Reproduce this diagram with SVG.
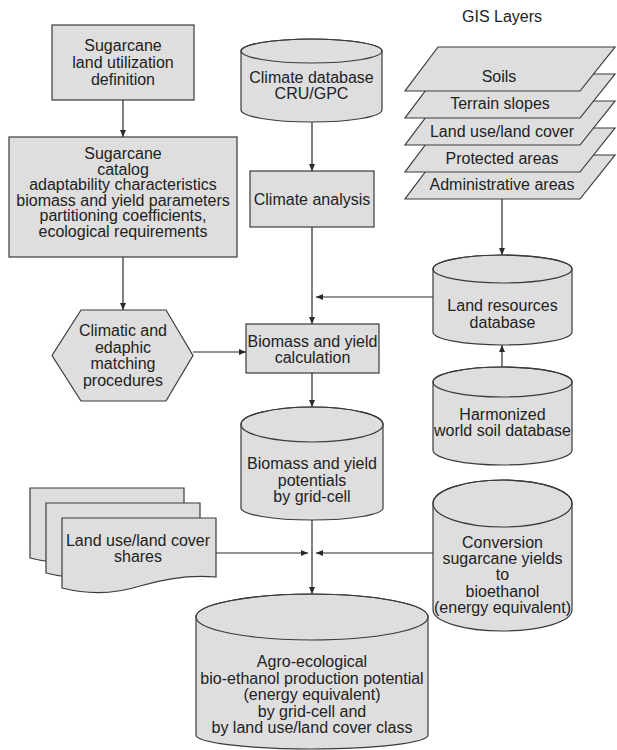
<svg xmlns="http://www.w3.org/2000/svg" width="617" height="750" viewBox="0 0 617 750">
<style>
.s{fill:#dedede;stroke:#3a3a3a;stroke-width:1.2}
.l{fill:none;stroke:#3a3a3a;stroke-width:1.2}
text{font-family:"Liberation Sans",Arial,sans-serif;font-size:16px;fill:#222;text-anchor:middle}
.c{stroke:#2a2a2a;stroke-width:1.2;fill:none;marker-end:url(#a)}
</style>
<defs>
<marker id="a" markerUnits="userSpaceOnUse" markerWidth="7" markerHeight="6" refX="7" refY="3" orient="auto"><path d="M0,0 L7,3 L0,6 Z" fill="#2a2a2a"/></marker>
</defs>
<g id="connectors">
<path class="c" d="M123,100 V137"/>
<path class="c" d="M123,257 V310"/>
<path class="c" d="M312,122 V171"/>
<path class="c" d="M312,227 V324"/>
<path class="c" d="M433,297 H316"/>
<path class="c" d="M193,352 H246"/>
<path class="c" d="M502,199 V255"/>
<path class="c" d="M502,367 V345"/>
<path class="c" d="M312,373 V407"/>
<path class="c" d="M312,520 V594"/>
<path class="c" d="M215,553 H308"/>
<path class="c" d="M433,553 H316"/>
</g>
<g id="land-utilization">
<rect class="s" x="52" y="25" width="142" height="75"/>
<text x="123" y="51">Sugarcane</text>
<text x="123" y="68">land utilization</text>
<text x="123" y="85">definition</text>
</g>
<g id="sugarcane-catalog">
<rect class="s" x="9" y="137" width="228" height="120"/>
<text x="123" y="159">Sugarcane</text>
<text x="123" y="174.5">catalog</text>
<text x="123" y="190">adaptability characteristics</text>
<text x="123" y="205.5">biomass and yield parameters</text>
<text x="123" y="221">partitioning coefficients,</text>
<text x="123" y="236.5">ecological requirements</text>
</g>
<g id="matching">
<polygon class="s" points="81,310 166,310 193,355.5 166,401 81,401 52,355.5"/>
<text x="123" y="336">Climatic and</text>
<text x="123" y="352.5">edaphic</text>
<text x="123" y="369">matching</text>
<text x="123" y="385.5">procedures</text>
</g>
<g id="climate-db">
<path class="s" d="M241,51 V110 A70.5,12 0 0 0 382,110 V51 A70.5,12 0 0 0 241,51 Z"/>
<ellipse class="l" cx="311.5" cy="51" rx="70.5" ry="12"/>
<text x="311.5" y="83">Climate database</text>
<text x="311.5" y="99">CRU/GPC</text>
</g>
<g id="climate-analysis">
<rect class="s" x="250" y="171" width="124" height="56"/>
<text x="312" y="205">Climate analysis</text>
</g>
<g id="biomass-calc">
<rect class="s" x="246" y="324" width="133" height="49"/>
<text x="312.5" y="347">Biomass and yield</text>
<text x="312.5" y="363">calculation</text>
</g>
<text x="502" y="22">GIS Layers</text>
<g id="gis-layers">
<polygon class="s" points="438,155 615,155 580,199 405,199"/>
<text x="502" y="190">Administrative areas</text>
<polygon class="s" points="438,128 615,128 580,172 405,172"/>
<text x="502" y="163.5">Protected areas</text>
<polygon class="s" points="438,101 615,101 580,145 405,145"/>
<text x="502" y="136.5">Land use/land cover</text>
<polygon class="s" points="438,74 615,74 580,118 405,118"/>
<text x="500" y="109">Terrain slopes</text>
<polygon class="s" points="438,47 615,47 580,91 405,91"/>
<text x="499" y="81.5">Soils</text>
</g>
<g id="land-resources-db">
<path class="s" d="M433,269 V332 A69.5,13 0 0 0 572,332 V269 A69.5,14 0 0 0 433,269 Z"/>
<ellipse class="l" cx="502.5" cy="269" rx="69.5" ry="14"/>
<text x="502.5" y="311">Land resources</text>
<text x="502.5" y="328">database</text>
</g>
<g id="hwsd">
<path class="s" d="M433,382 V450 A69.5,15 0 0 0 572,450 V382 A69.5,15 0 0 0 433,382 Z"/>
<ellipse class="l" cx="502.5" cy="382" rx="69.5" ry="15"/>
<text x="502.5" y="420">Harmonized</text>
<text x="502.5" y="436">world soil database</text>
</g>
<g id="potentials">
<path class="s" d="M241,424.5 V508 A71,12 0 0 0 383,508 V424.5 A71,17.5 0 0 0 241,424.5 Z"/>
<ellipse class="l" cx="312" cy="424.5" rx="71" ry="17.5"/>
<text x="312" y="469">Biomass and yield</text>
<text x="312" y="486">potentials</text>
<text x="312" y="502">by grid-cell</text>
</g>
<g id="land-cover-shares">
<path class="s" transform="translate(-32,-30)" d="M62,518 H216 V577 C195,575 170,577 140,586 C115,594 90,595 62,588 Z"/>
<path class="s" transform="translate(-16,-15)" d="M62,518 H216 V577 C195,575 170,577 140,586 C115,594 90,595 62,588 Z"/>
<path class="s" d="M62,518 H216 V577 C195,575 170,577 140,586 C115,594 90,595 62,588 Z"/>
<text x="138" y="546">Land use/land cover</text>
<text x="138" y="562">shares</text>
</g>
<g id="conversion">
<path class="s" d="M433,503.5 V610 A69.5,21 0 0 0 572,610 V503.5 A69.5,23.5 0 0 0 433,503.5 Z"/>
<ellipse class="l" cx="502.5" cy="503.5" rx="69.5" ry="23.5"/>
<text x="502.5" y="548">Conversion</text>
<text x="502.5" y="564">sugarcane yields</text>
<text x="502.5" y="580">to</text>
<text x="502.5" y="597">bioethanol</text>
<text x="502.5" y="613">(energy equivalent)</text>
</g>
<g id="agro-ecological">
<path class="s" d="M196,617 V735 A116,14 0 0 0 428,735 V617 A116,23 0 0 0 196,617 Z"/>
<ellipse class="l" cx="312" cy="617" rx="116" ry="23"/>
<text x="312" y="667">Agro-ecological</text>
<text x="312" y="683.5">bio-ethanol production potential</text>
<text x="312" y="700">(energy equivalent)</text>
<text x="312" y="716.5">by grid-cell and</text>
<text x="312" y="733">by land use/land cover class</text>
</g>
</svg>
